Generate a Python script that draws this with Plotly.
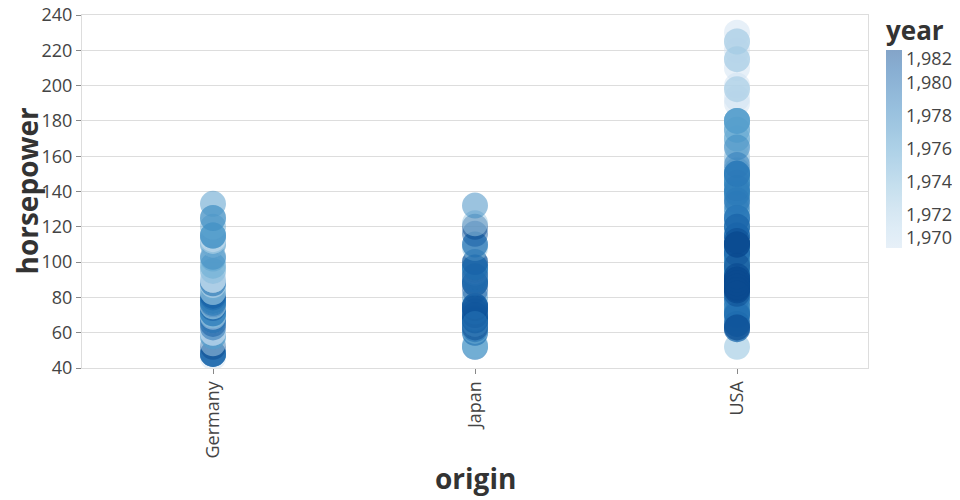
import plotly.graph_objects as go

# ---------------- data ----------------
origins = ["Germany", "Japan", "USA"]

germany_hp = [46, 48, 48, 48, 48, 52, 54, 58, 58, 60, 60, 63, 65, 67, 67, 67, 69, 70, 70, 70,
              71, 71, 71, 74, 75, 75, 76, 76, 76, 77, 77, 78, 78, 78, 80, 81, 83, 83, 86, 87,
              88, 88, 88, 90, 90, 90, 95, 95, 98, 98, 102, 103, 110, 110, 112, 112, 113, 115,
              115, 115, 115, 120, 125, 125, 133]
germany_year = [1970, 1980, 1980, 1978, 1981, 1982, 1972, 1975, 1977, 1971, 1971, 1980, 1981, 1973, 1980, 1980, 1971, 1971, 1974, 1975,
                1976, 1978, 1979, 1981, 1973, 1974, 1971, 1972, 1980, 1978, 1979, 1976, 1977, 1980, 1980, 1981, 1973, 1974, 1975, 1970,
                1972, 1975, 1980, 1970, 1971, 1972, 1970, 1975, 1974, 1975, 1976, 1978, 1972, 1977, 1972, 1973, 1970, 1974,
                1975, 1978, 1977, 1976, 1976, 1978, 1977]

japan_hp = [52, 52, 53, 60, 60, 61, 62, 65, 65, 65, 65, 67, 67, 67, 68, 68, 68, 69, 70, 70,
            70, 70, 70, 72, 72, 75, 75, 75, 75, 75, 75, 80, 84, 88, 88, 88, 90, 92, 94, 95,
            95, 96, 96, 97, 97, 97, 100, 100, 108, 110, 110, 116, 120, 122, 132,
            63, 67, 68, 70, 72, 74, 75, 65, 88, 92, 97]
japan_year = [1980, 1976, 1975, 1977, 1980, 1975, 1980, 1971, 1980, 1981, 1974, 1977, 1980, 1981, 1976, 1977, 1978, 1973, 1976, 1979,
              1980, 1981, 1977, 1978, 1974, 1976, 1980, 1978, 1981, 1974, 1982, 1978, 1981, 1971, 1981, 1982, 1980, 1976, 1976, 1970,
              1979, 1982, 1974, 1972, 1976, 1978, 1979, 1982, 1974, 1977, 1980, 1981, 1982, 1973, 1978,
              1982, 1982, 1981, 1982, 1981, 1982, 1981, 1979, 1980, 1981, 1980]

usa_hp = [
    130, 165, 150, 150, 140, 198, 220, 215, 225, 190, 170, 160, 150, 225, 95, 97, 85, 90, 215, 200, 210, 193, 230,
    100, 105, 100, 88, 100, 165, 175, 153, 150, 180, 170, 175, 110, 72, 100, 88, 86, 90, 95, 80,
    140, 150, 150, 150, 160, 175, 150, 180, 170, 175, 110, 72, 88, 86, 90, 100, 95, 97, 80, 86,
    150, 145, 137, 150, 198, 150, 158, 150, 215, 225, 175, 105, 100, 100, 88, 95, 150, 167, 170, 180, 100, 88, 72, 94, 90, 85, 107, 90, 145, 180,
    100, 105, 100, 88, 100, 52, 78, 150, 150, 145, 137, 140, 100, 72, 110, 85, 95, 100,
    95, 100, 105, 100, 88, 100, 145, 150, 148, 110, 105, 110, 95, 72, 75, 97, 170, 180, 72, 120, 152, 150,
    110, 72, 100, 88, 86, 81, 120, 180, 145, 130, 150, 100, 105, 110, 105, 145, 175, 110, 84, 88,
    100, 110, 150, 145, 135, 140, 120, 110, 110, 86, 90, 95, 180, 149, 75, 129, 100, 80,
    105, 85, 110, 139, 105, 95, 85, 88, 100, 90, 105, 85, 110, 120, 145, 165, 139, 140, 68, 95, 97, 75, 95, 105, 85, 97, 103,
    125, 115, 133, 71, 115, 90, 70, 65, 90, 88, 90, 115, 150, 135, 90, 125, 155, 142, 125, 150, 71, 65, 80, 80, 77, 125,
    90, 90, 70, 115, 88, 62, 65, 90, 62, 84,
    85, 88, 90, 110, 120, 85, 90, 105, 92, 85, 63, 110,
    88, 85, 88, 90, 85, 110, 110, 98, 92, 90, 84, 63, 84, 88, 112, 82, 86,
]
usa_year = (
    [1970] * 23 + [1971] * 20 + [1972] * 20 + [1973] * 31 + [1974] * 18 + [1975] * 22 +
    [1976] * 20 + [1977] * 18 + [1978] * 27 + [1979] * 26 + [1980] * 10 + [1981] * 12 + [1982] * 17
)

year_ticks = [1970, 1972, 1974, 1976, 1978, 1980, 1982]
year_tick_labels = ["1,970", "1,972", "1,974", "1,976", "1,978", "1,980", "1,982"]
y_ticks = [40, 60, 80, 100, 120, 140, 160, 180, 200, 220, 240]

# ---------------- styling ----------------
blues = ["#cfe1f2", "#bed8ec", "#a8cee5", "#8fc1de", "#74b2d7", "#5ba3cf",
         "#4592c6", "#3181bd", "#206fb2", "#125ca4", "#0a4a90"]
n = len(blues) - 1
scale = [[i / n, c] for i, c in enumerate(blues)]


def blend(hexc, a=0.5):
    r, g, b = int(hexc[1:3], 16), int(hexc[3:5], 16), int(hexc[5:7], 16)
    return "rgb(%d,%d,%d)" % tuple(round(a * v + (1 - a) * 255) for v in (r, g, b))


legend_scale = [[i / n, blend(c)] for i, c in enumerate(blues)]

xs = ["Germany"] * len(germany_hp) + ["Japan"] * len(japan_hp) + ["USA"] * len(usa_hp)
ys = germany_hp + japan_hp + usa_hp
cs = germany_year + japan_year + usa_year

FONT = "Open Sans"
TXT = "#444"
GRID = "#dddddd"

# page body has an 8px margin: the figure is sized/placed to land on the reference pixels
W, H = 952, 492
L, T, R, B = 74, 7, 92, 132
PW, PH = W - L - R, H - T - B  # 786 x 353

fig = go.Figure()
fig.add_trace(go.Scatter(
    x=xs, y=ys, mode="markers",
    marker=dict(size=26, color=cs, colorscale=scale, cmin=1970, cmax=1982,
                opacity=0.5, line=dict(width=0), showscale=False),
    hoverinfo="x+y", showlegend=False,
))
# colour legend (drawn with the blended colours, as the reference legend shows opacity)
fig.add_trace(go.Scatter(
    x=["USA", "USA"], y=[None, None], mode="markers",
    marker=dict(size=1, color=[1970, 1982], colorscale=legend_scale, cmin=1970, cmax=1982,
                opacity=0,
                showscale=True,
                colorbar=dict(
                    thickness=16, thicknessmode="pixels",
                    len=198, lenmode="pixels",
                    x=(886 - 82) / PW, xanchor="left", xpad=0,
                    y=(368 - 50) / PH, yanchor="top", ypad=0,
                    outlinewidth=0, ticks="",
                    tickvals=[1970.6, 1972, 1974, 1976, 1978, 1980, 1981.45],
                    ticktext=year_tick_labels,
                    tickfont=dict(family=FONT, size=18, color=TXT),
                    ticklabelposition="outside",
                )),
    hoverinfo="skip", showlegend=False,
))

fig.update_layout(
    width=W, height=H,
    margin=dict(l=L, r=R, t=T, b=B, autoexpand=False),
    paper_bgcolor="white", plot_bgcolor="white",
    font=dict(family=FONT, color=TXT),
    xaxis=dict(
        categoryorder="array", categoryarray=origins, range=[-0.5, 2.5], automargin=False,
        showgrid=False, showline=True, linecolor=GRID, linewidth=1, mirror=True,
        ticks="outside", ticklen=5, tickcolor="#888", tickangle=-90,
        tickfont=dict(family=FONT, size=18, color=TXT), ticklabeloverflow="allow",
    ),
    yaxis=dict(
        range=[40, 240], tickvals=y_ticks, showgrid=True, gridcolor=GRID, automargin=False,
        showline=True, linecolor=GRID, linewidth=1, mirror=True, zeroline=False,
        ticks="outside", ticklen=5, tickcolor="#888",
        tickfont=dict(family=FONT, size=18, color=TXT), ticklabeloverflow="allow",
    ),
    annotations=[
        dict(text="<b>origin</b>", xref="paper", yref="paper", x=0.5, y=-110 / PH,
             xanchor="center", yanchor="middle", showarrow=False,
             font=dict(family=FONT, size=28, color="#333")),
        dict(text="<b>horsepower</b>", xref="paper", yref="paper", x=-56 / PW, y=0.5,
             xanchor="center", yanchor="middle", textangle=-90, showarrow=False,
             font=dict(family=FONT, size=28, color="#333")),
        dict(text="<b>year</b>", xref="paper", yref="paper", x=(884 - 82) / PW, y=(368 - 30) / PH,
             xanchor="left", yanchor="middle", showarrow=False,
             font=dict(family=FONT, size=26, color="#333")),
    ],
)

fig.write_html("out.html")
